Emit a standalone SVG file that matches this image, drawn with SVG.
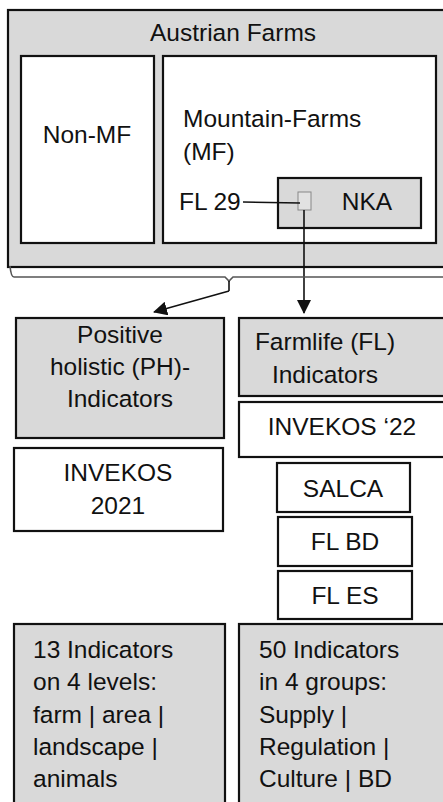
<svg xmlns="http://www.w3.org/2000/svg" width="443" height="802" viewBox="0 0 443 802">
  <defs>
    <style>
      text { font-family: "Liberation Sans", Arial, sans-serif; font-size: 24.5px; fill: #111; }
      .c { text-anchor: middle; }
      .gray { fill: #d9d9d9; stroke: #111; stroke-width: 2.2; }
      .white { fill: #ffffff; stroke: #111; stroke-width: 2.2; }
      .conn { fill: none; stroke: #111; stroke-width: 1.6; }
      .brace { fill: none; stroke: #555; stroke-width: 1.6; }
    </style>
    <marker id="arrow" viewBox="0 0 14 14" refX="13" refY="7" markerWidth="14" markerHeight="14" markerUnits="userSpaceOnUse" orient="auto">
      <path d="M0,0 L14,7 L0,14 Z" fill="#111"/>
    </marker>
  </defs>

  <g id="austrian-farms">
    <rect class="gray" x="8" y="10" width="450" height="257"/>
    <text class="c" x="233" y="41">Austrian Farms</text>
  </g>

  <g id="non-mf">
    <rect class="white" x="21" y="56" width="133" height="187"/>
    <text class="c" x="87" y="143">Non-MF</text>
  </g>

  <g id="mountain-farms">
    <rect class="white" x="163" y="56" width="273" height="187"/>
    <text x="183" y="127">Mountain-Farms</text>
    <text x="183" y="160">(MF)</text>
    <text x="179" y="210">FL 29</text>
  </g>

  <g id="nka">
    <rect class="gray" x="278" y="178" width="143" height="50"/>
    <text class="c" x="367" y="210">NKA</text>
    <rect x="298" y="192" width="13" height="18" fill="#e2e2e2" stroke="#888" stroke-width="1"/>
  </g>

  <g id="ph-indicators">
    <rect class="gray" x="16" y="318" width="208" height="120"/>
    <text class="c" x="120" y="343">Positive</text>
    <text class="c" x="120" y="375">holistic (PH)-</text>
    <text class="c" x="120" y="407">Indicators</text>
  </g>

  <g id="fl-indicators">
    <rect class="gray" x="239" y="318" width="220" height="78"/>
    <text class="c" x="325" y="350">Farmlife (FL)</text>
    <text class="c" x="325" y="383">Indicators</text>
  </g>

  <g id="invekos-22">
    <rect class="white" x="239" y="402" width="220" height="55"/>
    <text class="c" x="342" y="435">INVEKOS ‘22</text>
  </g>

  <g id="invekos-2021">
    <rect class="white" x="14" y="448" width="209" height="83"/>
    <text class="c" x="118" y="481">INVEKOS</text>
    <text class="c" x="118" y="514">2021</text>
  </g>

  <g id="salca">
    <rect class="white" x="277" y="463" width="133" height="49"/>
    <text class="c" x="343" y="497">SALCA</text>
  </g>

  <g id="fl-bd">
    <rect class="white" x="278" y="517" width="134" height="49"/>
    <text class="c" x="345" y="550">FL BD</text>
  </g>

  <g id="fl-es">
    <rect class="white" x="278" y="571" width="134" height="48"/>
    <text class="c" x="345" y="604">FL ES</text>
  </g>

  <g id="ph-levels">
    <rect class="gray" x="14" y="624" width="211" height="190"/>
    <text x="33" y="658">13 Indicators</text>
    <text x="33" y="690">on 4 levels:</text>
    <text x="33" y="723">farm | area |</text>
    <text x="33" y="755">landscape |</text>
    <text x="33" y="787">animals</text>
  </g>

  <g id="fl-groups">
    <rect class="gray" x="239" y="624" width="220" height="190"/>
    <text x="259" y="658">50 Indicators</text>
    <text x="259" y="690">in 4 groups:</text>
    <text x="259" y="723">Supply |</text>
    <text x="259" y="755">Regulation |</text>
    <text x="259" y="787">Culture | BD</text>
  </g>

  <g id="connectors">
    <!-- FL 29 label leader -->
    <line class="conn" x1="243" y1="202" x2="300" y2="203" stroke-width="1.2"/>
    <!-- NKA to Farmlife indicators -->
    <line class="conn" x1="304" y1="210" x2="304" y2="313" marker-end="url(#arrow)" stroke-width="2.2"/>
    <!-- brace under all farms -->
    <path class="brace" d="M10,266 Q11,277 14,277 H225 L229,281 L233,277 H450"/>
    <line class="conn" x1="229" y1="281" x2="229" y2="291"/>
    <!-- brace to PH indicators -->
    <line class="conn" x1="229" y1="291" x2="154" y2="312" marker-end="url(#arrow)"/>
  </g>
</svg>
